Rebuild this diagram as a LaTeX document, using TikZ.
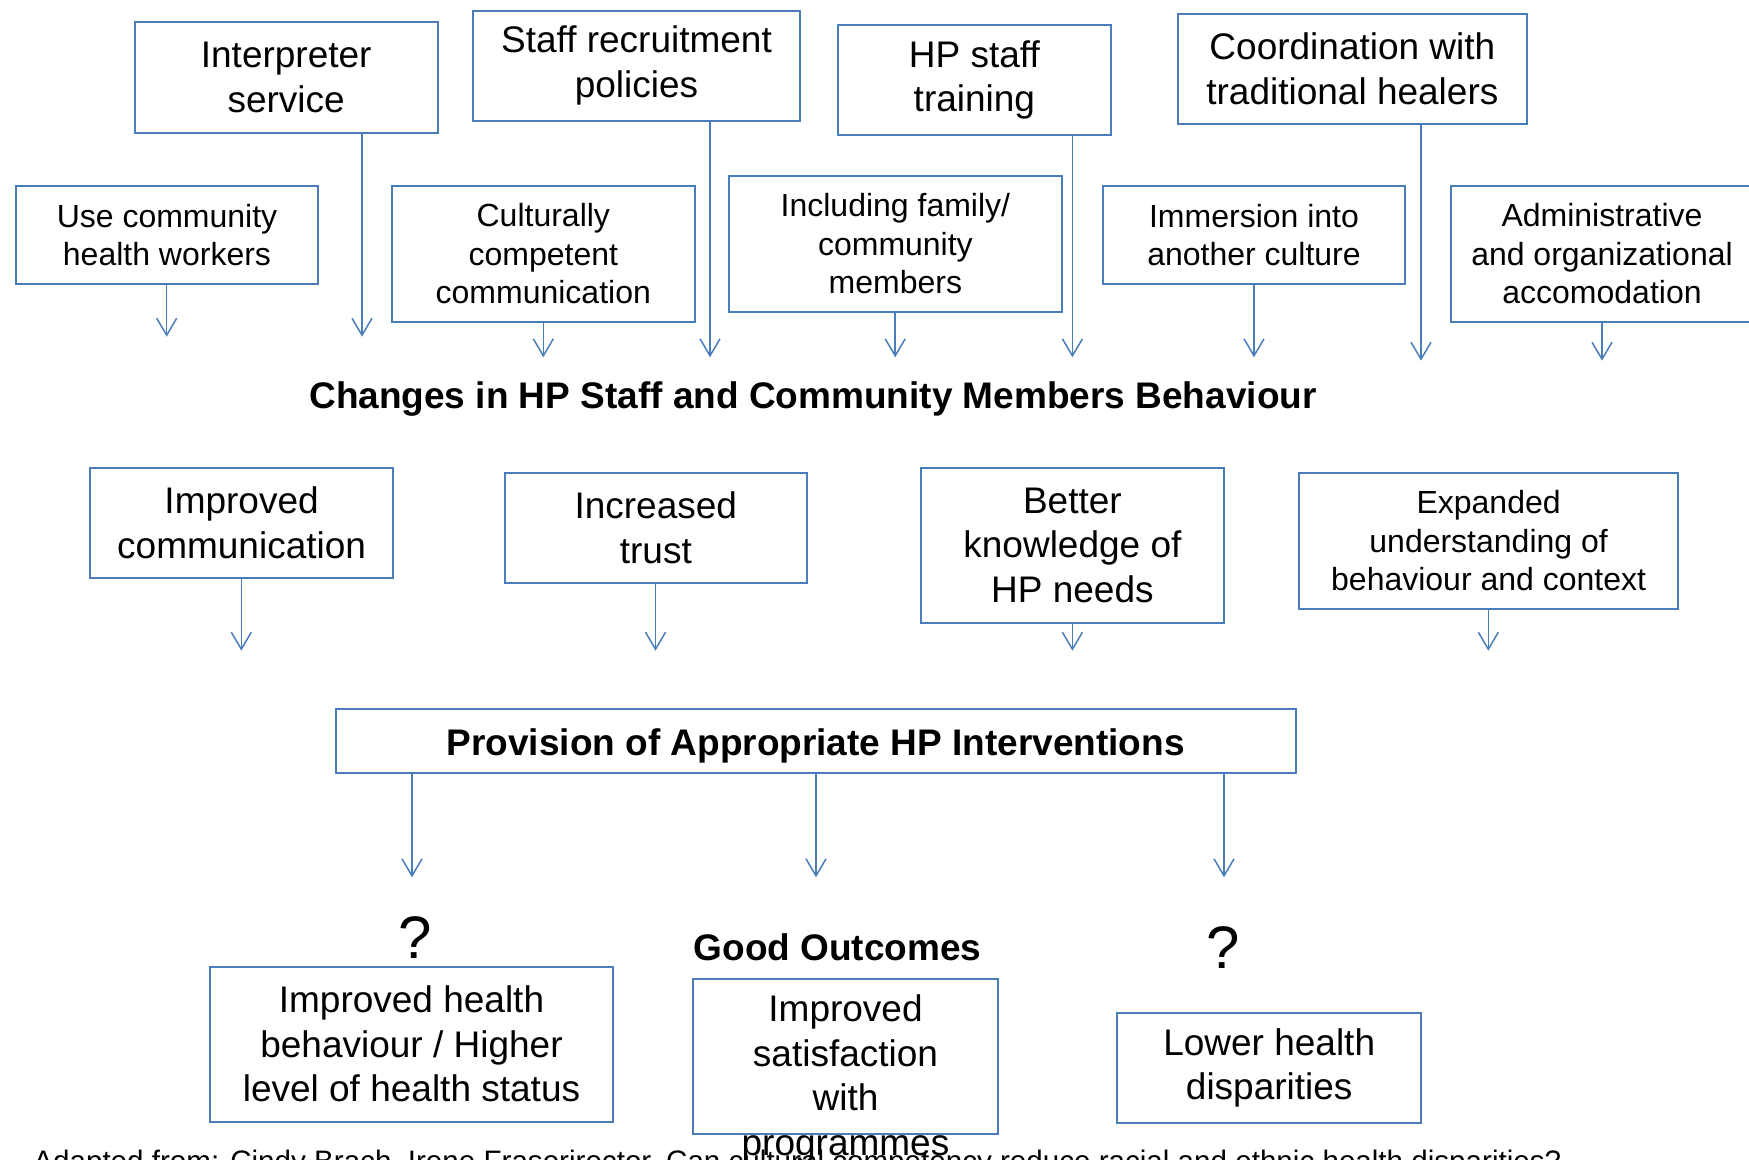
\documentclass[tikz,border=0pt]{standalone}
\usepackage{fontspec}
\setmainfont{Liberation Sans}
\usetikzlibrary{arrows.meta}
\definecolor{lineblue}{RGB}{74,126,187}
\newcommand\mystrut{\vrule width 0pt height \dimexpr0.79\baselineskip+4.3pt\relax depth \dimexpr0.21\baselineskip-4.3pt\relax}
\tikzset{
 txt/.style={align=center, inner sep=0pt, font=\fontsize{18.5}{22.3}\selectfont,
   execute at begin node=\mystrut, execute at end node=\mystrut},
 stxt/.style={txt, font=\fontsize{16}{19.25}\selectfont},
 box/.style={txt, draw=lineblue, line width=1pt},
 sbox/.style={stxt, draw=lineblue, line width=1pt},
 arr/.style={draw=lineblue, line width=0.75pt, -{Straight Barb[length=8.5pt,width=10pt]}},
 head/.style={font=\fontsize{18.5}{22.3}\selectfont\bfseries, inner sep=0pt},
 qm/.style={font=\fontsize{30}{32}\selectfont, inner sep=0pt},
}
\begin{document}
\begin{tikzpicture}[x=0.5pt,y=-0.5pt]
\clip (0,0) rectangle (1749,1160);
\fill[white] (0,0) rectangle (1749,1160);

% top row
\node[box, minimum width=151.5pt, minimum height=55.2pt] (interp) at (286.2,77.5) {Interpreter\\service};
\node[box, minimum width=163.85pt, minimum height=55pt] (recruit) at (636.5,65.7) {Staff recruitment\\policies};
\node[box, minimum width=136.65pt, minimum height=54.85pt] (hpstaff) at (974.4,79.9) {HP staff\\training};
\node[box, minimum width=174.1pt, minimum height=55.15pt] (coord) at (1352.4,68.9) {Coordination with\\traditional healers};

% second row
\node[sbox, minimum width=151.25pt, minimum height=48.85pt] (usechw) at (167,234.9) {Use community\\health workers};
\node[sbox, minimum width=151.55pt, minimum height=67.85pt] (cultural) at (543.3,253.9) {Culturally\\competent\\communication};
\node[sbox, minimum width=166.9pt, minimum height=68.15pt] (family) at (895.4,243.9) {Including family/\\community\\members};
\node[sbox, minimum width=151.4pt, minimum height=48.85pt] (immersion) at (1254,234.9) {Immersion into\\another culture};
\node[sbox, minimum width=151.2pt, minimum height=67.85pt] (admin) at (1602,253.9) {Administrative\\and organizational\\accomodation};

% arrow ends
\coordinate (a1) at (166.7,336.7);
\coordinate (a2) at (362,336.7);
\coordinate (a3) at (543.3,357.3);
\coordinate (a4) at (710,357.3);
\coordinate (a5) at (895.2,357.3);
\coordinate (a6) at (1072.4,357.3);
\coordinate (a7) at (1254,357.3);
\coordinate (a8) at (1421,360.7);
\coordinate (a9) at (1602,360.7);
\draw[arr] (usechw.south -| a1) -- (a1);
\draw[arr] (interp.south -| a2) -- (a2);
\draw[arr] (cultural.south -| a3) -- (a3);
\draw[arr] (recruit.south -| a4) -- (a4);
\draw[arr] (family.south -| a5) -- (a5);
\draw[arr] (hpstaff.south -| a6) -- (a6);
\draw[arr] (immersion.south -| a7) -- (a7);
\draw[arr] (coord.south -| a8) -- (a8);
\draw[arr] (admin.south -| a9) -- (a9);

\node[head, anchor=base] (changes) at (813,408.3) {Changes in HP Staff and Community Members Behaviour};

% middle row
\node[box, minimum width=151.25pt, minimum height=55.3pt] (impcomm) at (241.6,523) {Improved\\communication};
\node[box, minimum width=151.25pt, minimum height=54.85pt] (trust) at (655.8,528.2) {Increased\\trust};
\node[box, minimum width=151.35pt, minimum height=77.8pt] (better) at (1072.4,545.5) {Better\\knowledge of\\HP needs};
\node[sbox, minimum width=189.2pt, minimum height=67.7pt] (expanded) at (1488.6,541) {Expanded\\understanding of\\behaviour and context};

\coordinate (b1) at (241.3,650.7);
\coordinate (b2) at (655.5,650.7);
\coordinate (b3) at (1072.4,650.7);
\coordinate (b4) at (1488.3,650.7);
\draw[arr] (impcomm.south -| b1) -- (b1);
\draw[arr] (trust.south -| b2) -- (b2);
\draw[arr] (better.south -| b3) -- (b3);
\draw[arr] (expanded.south -| b4) -- (b4);

% provision
\node[draw=lineblue, line width=1pt, minimum width=480pt, minimum height=32pt] (provision) at (815.7,741) {};
\node[head, anchor=base] (provtext) at (815.7,755) {Provision of Appropriate HP Interventions};
\coordinate (c1) at (412,877.3);
\coordinate (c2) at (816,877.3);
\coordinate (c3) at (1224,877.3);
\draw[arr] (provision.south -| c1) -- (c1);
\draw[arr] (provision.south -| c2) -- (c2);
\draw[arr] (provision.south -| c3) -- (c3);

% outcomes
\node[qm] (q1) at (415,938) {?};
\node[qm] (q2) at (1223.3,948) {?};
\node[head, anchor=base west] (good) at (693.3,960) {Good Outcomes};

\node[box, minimum width=201.2pt, minimum height=77.5pt] (imphealth) at (411.5,1044.2) {Improved health\\behaviour / Higher\\level of health status};
\node[draw=lineblue, line width=1pt, minimum width=152.25pt, minimum height=77.65pt, inner sep=0pt] (satisf) at (845.5,1056.7) {};
\node[txt, anchor=north] (satisftext) at (845.5,994.5) {Improved\\satisfaction\\with\\programmes};
\node[box, minimum width=151.85pt, minimum height=54.85pt] (lower) at (1269.2,1068) {Lower health\\disparities};

\node[anchor=base west, inner sep=0pt, font=\fontsize{14.8}{16}\selectfont] (cite) at (33,1171) {Adapted from: Cindy Brach, Irene Fraserirector, Can cultural competency reduce racial and ethnic health disparities?};
\end{tikzpicture}
\end{document}
